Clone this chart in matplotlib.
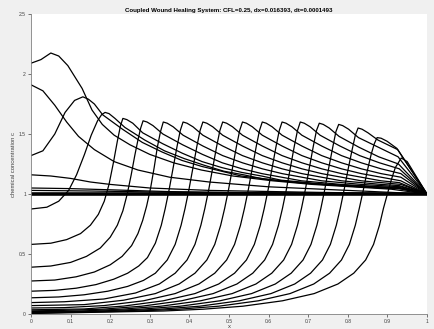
import matplotlib
matplotlib.use("Agg")
import matplotlib.pyplot as plt

# snapshots of c(x) while the healing front moves from x=1 towards x=0
x_s01 = [0, 0.335, 0.435, 0.535, 0.635, 0.715, 0.775, 0.815, 0.845, 0.865, 0.88, 0.89, 0.90, 0.91, 0.92, 0.935, 0.95, 1.0]
c_s01 = [0.004, 0.025, 0.04, 0.065, 0.11, 0.17, 0.25, 0.34, 0.45, 0.58, 0.74, 0.88, 1.0, 1.12, 1.22, 1.30, 1.27, 1.0]

x_s02 = [0, 0.274, 0.374, 0.474, 0.574, 0.654, 0.714, 0.754, 0.784, 0.804, 0.819, 0.829, 0.839, 0.849, 0.859, 0.867, 0.874, 0.884, 0.899, 0.924, 1.0]
c_s02 = [0.008, 0.025, 0.04, 0.065, 0.11, 0.17, 0.25, 0.34, 0.45, 0.58, 0.74, 0.88, 1.03, 1.19, 1.33, 1.42, 1.47, 1.465, 1.44, 1.38, 1.0]

x_s03 = [0, 0.226, 0.326, 0.426, 0.526, 0.606, 0.666, 0.706, 0.736, 0.756, 0.771, 0.781, 0.791, 0.801, 0.811, 0.819, 0.826, 0.836, 0.851, 0.876, 0.926, 1.0]
c_s03 = [0.011, 0.025, 0.04, 0.065, 0.11, 0.17, 0.25, 0.34, 0.45, 0.58, 0.74, 0.88, 1.04, 1.21, 1.37, 1.49, 1.55, 1.54, 1.51, 1.45, 1.37, 1.0]

x_s04 = [0, 0.177, 0.277, 0.377, 0.477, 0.557, 0.617, 0.657, 0.687, 0.707, 0.722, 0.732, 0.742, 0.752, 0.762, 0.770, 0.777, 0.787, 0.802, 0.827, 0.877, 0.927, 1.0]
c_s04 = [0.015, 0.025, 0.04, 0.065, 0.11, 0.17, 0.25, 0.34, 0.45, 0.58, 0.74, 0.88, 1.04, 1.22, 1.39, 1.52, 1.58, 1.57, 1.54, 1.47, 1.39, 1.31, 1.0]

x_s05 = [0, 0.128, 0.228, 0.328, 0.428, 0.508, 0.568, 0.608, 0.638, 0.658, 0.673, 0.683, 0.693, 0.703, 0.713, 0.721, 0.728, 0.738, 0.753, 0.778, 0.828, 0.878, 0.928, 1.0]
c_s05 = [0.02, 0.025, 0.04, 0.065, 0.11, 0.17, 0.25, 0.34, 0.45, 0.58, 0.74, 0.88, 1.04, 1.22, 1.40, 1.53, 1.59, 1.58, 1.55, 1.48, 1.39, 1.31, 1.25, 1.0]

x_s06 = [0, 0.08, 0.18, 0.28, 0.38, 0.46, 0.52, 0.56, 0.59, 0.61, 0.625, 0.635, 0.645, 0.655, 0.665, 0.673, 0.68, 0.69, 0.705, 0.73, 0.78, 0.83, 0.88, 0.93, 1.0]
c_s06 = [0.026, 0.03, 0.04, 0.065, 0.11, 0.17, 0.25, 0.34, 0.45, 0.58, 0.74, 0.88, 1.04, 1.22, 1.40, 1.53, 1.60, 1.59, 1.56, 1.49, 1.40, 1.32, 1.26, 1.21, 1.0]

x_s07 = [0, 0.134, 0.234, 0.334, 0.414, 0.474, 0.514, 0.544, 0.564, 0.579, 0.589, 0.599, 0.609, 0.619, 0.627, 0.634, 0.644, 0.659, 0.684, 0.734, 0.784, 0.834, 0.884, 0.934, 1.0]
c_s07 = [0.035, 0.042, 0.066, 0.11, 0.17, 0.25, 0.34, 0.45, 0.58, 0.74, 0.88, 1.04, 1.22, 1.40, 1.53, 1.60, 1.59, 1.56, 1.49, 1.40, 1.32, 1.26, 1.21, 1.17, 1.0]

x_s08 = [0, 0.084, 0.184, 0.284, 0.364, 0.424, 0.464, 0.494, 0.514, 0.529, 0.539, 0.549, 0.559, 0.569, 0.577, 0.584, 0.594, 0.609, 0.634, 0.684, 0.734, 0.784, 0.834, 0.884, 0.934, 1.0]
c_s08 = [0.05, 0.053, 0.07, 0.11, 0.17, 0.25, 0.34, 0.45, 0.58, 0.74, 0.88, 1.04, 1.22, 1.40, 1.53, 1.60, 1.59, 1.56, 1.49, 1.40, 1.32, 1.26, 1.21, 1.17, 1.14, 1.0]

x_s09 = [0, 0.134, 0.234, 0.314, 0.374, 0.414, 0.444, 0.464, 0.479, 0.489, 0.499, 0.509, 0.519, 0.527, 0.534, 0.544, 0.559, 0.584, 0.634, 0.684, 0.734, 0.784, 0.834, 0.884, 0.934, 1.0]
c_s09 = [0.07, 0.078, 0.115, 0.17, 0.25, 0.34, 0.45, 0.58, 0.74, 0.88, 1.04, 1.22, 1.40, 1.53, 1.60, 1.59, 1.56, 1.49, 1.40, 1.32, 1.26, 1.21, 1.17, 1.14, 1.11, 1.0]

x_s10 = [0, 0.084, 0.184, 0.264, 0.324, 0.364, 0.394, 0.414, 0.429, 0.439, 0.449, 0.459, 0.469, 0.477, 0.484, 0.494, 0.509, 0.534, 0.584, 0.634, 0.684, 0.734, 0.784, 0.834, 0.884, 0.93, 1.0]
c_s10 = [0.095, 0.102, 0.125, 0.175, 0.25, 0.34, 0.45, 0.58, 0.74, 0.88, 1.04, 1.22, 1.40, 1.53, 1.60, 1.59, 1.56, 1.49, 1.40, 1.32, 1.26, 1.21, 1.17, 1.14, 1.11, 1.095, 1.0]

x_s11 = [0, 0.07, 0.134, 0.194, 0.244, 0.284, 0.314, 0.344, 0.364, 0.379, 0.389, 0.399, 0.409, 0.419, 0.427, 0.434, 0.444, 0.459, 0.484, 0.534, 0.584, 0.634, 0.684, 0.734, 0.784, 0.834, 0.934, 1.0]
c_s11 = [0.135, 0.142, 0.16, 0.19, 0.23, 0.28, 0.34, 0.45, 0.58, 0.74, 0.88, 1.04, 1.22, 1.40, 1.53, 1.60, 1.59, 1.56, 1.49, 1.40, 1.32, 1.26, 1.21, 1.17, 1.14, 1.11, 1.08, 1.0]

x_s12 = [0, 0.06, 0.114, 0.164, 0.209, 0.244, 0.272, 0.294, 0.314, 0.329, 0.339, 0.349, 0.359, 0.369, 0.377, 0.384, 0.394, 0.409, 0.434, 0.484, 0.534, 0.584, 0.634, 0.684, 0.734, 0.784, 0.884, 0.93, 1.0]
c_s12 = [0.19, 0.197, 0.215, 0.245, 0.29, 0.34, 0.40, 0.47, 0.59, 0.74, 0.88, 1.04, 1.22, 1.40, 1.53, 1.60, 1.59, 1.56, 1.49, 1.40, 1.32, 1.26, 1.21, 1.17, 1.14, 1.11, 1.08, 1.07, 1.0]

x_s13 = [0, 0.06, 0.114, 0.16, 0.20, 0.23, 0.254, 0.27, 0.282, 0.292, 0.302, 0.311, 0.319, 0.327, 0.334, 0.344, 0.359, 0.384, 0.434, 0.484, 0.534, 0.584, 0.634, 0.684, 0.734, 0.834, 0.934, 1.0]
c_s13 = [0.275, 0.283, 0.31, 0.35, 0.41, 0.48, 0.57, 0.67, 0.78, 0.90, 1.05, 1.22, 1.39, 1.52, 1.60, 1.59, 1.56, 1.49, 1.40, 1.32, 1.26, 1.21, 1.17, 1.14, 1.11, 1.08, 1.06, 1.0]

x_s14 = [0, 0.05, 0.10, 0.14, 0.175, 0.20, 0.218, 0.232, 0.243, 0.253, 0.262, 0.27, 0.277, 0.283, 0.293, 0.308, 0.333, 0.383, 0.433, 0.483, 0.533, 0.583, 0.633, 0.683, 0.783, 0.883, 0.93, 1.0]
c_s14 = [0.39, 0.40, 0.43, 0.48, 0.55, 0.64, 0.74, 0.86, 1.0, 1.16, 1.32, 1.45, 1.55, 1.61, 1.60, 1.57, 1.50, 1.41, 1.33, 1.26, 1.21, 1.17, 1.14, 1.11, 1.08, 1.06, 1.055, 1.0]

x_s15 = [0, 0.05, 0.09, 0.125, 0.15, 0.17, 0.185, 0.197, 0.208, 0.218, 0.226, 0.232, 0.242, 0.257, 0.282, 0.332, 0.382, 0.432, 0.482, 0.532, 0.582, 0.632, 0.732, 0.832, 0.932, 1.0]
c_s15 = [0.58, 0.59, 0.62, 0.67, 0.74, 0.83, 0.94, 1.08, 1.26, 1.44, 1.57, 1.63, 1.62, 1.59, 1.51, 1.42, 1.34, 1.27, 1.22, 1.18, 1.15, 1.115, 1.085, 1.065, 1.05, 1.0]

x_s16 = [0, 0.04, 0.07, 0.095, 0.115, 0.135, 0.152, 0.168, 0.178, 0.187, 0.197, 0.212, 0.237, 0.287, 0.337, 0.387, 0.437, 0.487, 0.537, 0.587, 0.687, 0.787, 0.887, 0.93, 1.0]
c_s16 = [0.875, 0.89, 0.94, 1.03, 1.16, 1.33, 1.49, 1.61, 1.66, 1.68, 1.67, 1.63, 1.555, 1.45, 1.36, 1.295, 1.24, 1.19, 1.16, 1.125, 1.09, 1.07, 1.05, 1.045, 1.0]

x_s17 = [0, 0.03, 0.06, 0.086, 0.11, 0.131, 0.145, 0.16, 0.181, 0.231, 0.281, 0.331, 0.381, 0.431, 0.481, 0.531, 0.631, 0.731, 0.831, 0.931, 1.0]
c_s17 = [1.32, 1.36, 1.50, 1.68, 1.78, 1.81, 1.79, 1.75, 1.66, 1.54, 1.43, 1.35, 1.28, 1.23, 1.19, 1.15, 1.11, 1.08, 1.06, 1.045, 1.0]

x_s18 = [0, 0.025, 0.05, 0.07, 0.093, 0.129, 0.154, 0.18, 0.21, 0.25, 0.30, 0.36, 0.43, 0.51, 0.61, 0.71, 0.81, 0.91, 1.0]
c_s18 = [2.09, 2.12, 2.175, 2.15, 2.07, 1.88, 1.70, 1.58, 1.49, 1.41, 1.33, 1.26, 1.20, 1.15, 1.11, 1.08, 1.06, 1.04, 1.0]

# after the front reaches x=0 the profile relaxes back to c=1
x_s19 = [0, 0.03, 0.06, 0.09, 0.12, 0.16, 0.21, 0.27, 0.35, 0.45, 0.6, 0.8, 1.0]
c_s19 = [1.91, 1.86, 1.74, 1.60, 1.48, 1.37, 1.27, 1.20, 1.14, 1.10, 1.06, 1.03, 1.0]

x_s20 = [0, 0.05, 0.10, 0.15, 0.20, 0.30, 0.45, 0.70, 1.0]
c_s20 = [1.16, 1.15, 1.13, 1.10, 1.08, 1.05, 1.03, 1.015, 1.0]

x_s21 = [0, 0.1, 0.2, 0.35, 0.6, 1.0]
c_s21 = [1.05, 1.045, 1.035, 1.02, 1.01, 1.0]

x_s22 = [0, 0.15, 0.35, 0.65, 1.0]
c_s22 = [1.03, 1.025, 1.015, 1.005, 1.0]

x_steady = [0, 1.0]
c_steady = [1.0, 1.0]

snapshots = [
    (x_s01, c_s01), (x_s02, c_s02), (x_s03, c_s03), (x_s04, c_s04),
    (x_s05, c_s05), (x_s06, c_s06), (x_s07, c_s07), (x_s08, c_s08),
    (x_s09, c_s09), (x_s10, c_s10), (x_s11, c_s11), (x_s12, c_s12),
    (x_s13, c_s13), (x_s14, c_s14), (x_s15, c_s15), (x_s16, c_s16),
    (x_s17, c_s17), (x_s18, c_s18), (x_s19, c_s19), (x_s20, c_s20),
    (x_s21, c_s21), (x_s22, c_s22),
]

x_ticks = [0, 0.1, 0.2, 0.3, 0.4, 0.5, 0.6, 0.7, 0.8, 0.9, 1]
c_ticks = [0, 0.5, 1, 1.5, 2, 2.5]
title = "Coupled Wound Healing System: CFL=0.25, dx=0.016393, dt=0.0001493"

plt.rcParams['font.family'] = ['Liberation Sans', 'DejaVu Sans']

fig = plt.figure(figsize=(4.35, 3.29), dpi=100, facecolor='#f0f0f0')
ax = fig.add_axes([0.0713, 0.0456, 0.9103, 0.9118])
ax.set_facecolor('white')

for xs, cs in snapshots:
    ax.plot(xs, cs, color='black', linewidth=0.9)
# the late-time profiles all sit on c = 1
ax.plot(x_steady, c_steady, color='black', linewidth=2.6)

ax.set_xlim(0, 1)
ax.set_ylim(0, 2.5)
ax.set_xticks(x_ticks)
ax.set_xticklabels(['0', '0.1', '0.2', '0.3', '0.4', '0.5', '0.6', '0.7', '0.8', '0.9', '1'])
ax.set_yticks(c_ticks)
ax.set_yticklabels(['0', '0.5', '1', '1.5', '2', '2.5'])
ax.tick_params(direction='out', length=2.5, width=0.5, colors='#404040',
               labelsize=3.6, pad=1.2)
for side in ['top', 'right']:
    ax.spines[side].set_visible(False)
for side in ['left', 'bottom']:
    ax.spines[side].set_color('#808080')
    ax.spines[side].set_linewidth(0.6)

ax.set_xlabel('x', fontsize=4.2, color='#404040', labelpad=0)
ax.set_ylabel('chemical concentration c', fontsize=4.2, color='#404040', labelpad=2)
ax.set_title(title, fontsize=4.4, fontweight='bold', pad=1.5)

fig.savefig('out.png', dpi=100, facecolor=fig.get_facecolor())
